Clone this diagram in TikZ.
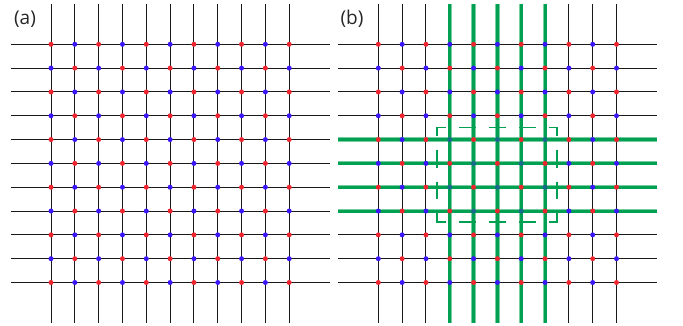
\documentclass[tikz,border=0pt]{standalone}
\usepackage{fontspec}
\setsansfont{Open Sans}
\definecolor{rd}{RGB}{238,36,46}
\definecolor{bl}{RGB}{58,22,250}
\definecolor{gr}{RGB}{0,160,82}
\definecolor{grl}{RGB}{120,205,160}
\definecolor{tl}{RGB}{25,105,140}
\tikzset{
  gridline/.style={line width=0.9pt, black!90},
  greenline/.style={line width=3.0pt, gr},
  greenhalo/.style={line width=4.2pt, grl},
  dashedge/.style={line width=1.9pt, gr, line cap=rect},
  reddot/.style={fill=rd, draw=none},
  bluedot/.style={fill=bl, draw=none},
  tealdot/.style={fill=tl, draw=none},
  panellabel/.style={font=\sffamily\fontsize{19}{19}\selectfont, text=black!85, inner sep=0pt}
}
\begin{document}
\begin{tikzpicture}[x=1pt,y=-1pt]
\useasboundingbox (0,0) rectangle (683,326);
\def\sp{23.82}
\def\yo{44.3}
% ---------- panel (a) ----------
\def\xa{51}
\foreach \i in {0,...,10} {
  \draw[gridline] ({\xa+\i*\sp},4) -- ({\xa+\i*\sp},322.7);
  \draw[gridline] ({\xa-40},{\yo+\i*\sp}) -- ({\xa+278.5},{\yo+\i*\sp});
}
\foreach \i in {0,...,10} {
  \foreach \j in {0,...,10} {
    \pgfmathtruncatemacro\p{mod(\i+\j,2)}
    \ifnum\p=0
      \fill[reddot] ({\xa+\i*\sp},{\yo+\j*\sp}) circle (2.5);
    \else
      \fill[bluedot] ({\xa+\i*\sp},{\yo+\j*\sp}) circle (2.5);
    \fi
  }
}
\node[panellabel] (la) at (25,19) {(a)};
% ---------- panel (b) ----------
\def\xb{378.3}
\foreach \i in {0,...,10} {
  \draw[gridline] ({\xb+\i*\sp},4) -- ({\xb+\i*\sp},322.7);
  \draw[gridline] ({\xb-40},{\yo+\i*\sp}) -- ({\xb+278.5},{\yo+\i*\sp});
}
\foreach \i in {3,...,7} {
  \draw[greenhalo] ({\xb+\i*\sp},4) -- ({\xb+\i*\sp},322.7);
}
\foreach \j in {4,...,7} {
  \draw[greenhalo] ({\xb-40},{\yo+\j*\sp}) -- ({\xb+278.5},{\yo+\j*\sp});
}
\foreach \i in {3,...,7} {
  \draw[greenline] ({\xb+\i*\sp},4) -- ({\xb+\i*\sp},322.7);
}
\foreach \j in {4,...,7} {
  \draw[greenline] ({\xb-40},{\yo+\j*\sp}) -- ({\xb+278.5},{\yo+\j*\sp});
}
% dashed window
\coordinate (w1) at (437.3,127.5);
\coordinate (w2) at (557.3,127.5);
\coordinate (w3) at (557.3,222);
\coordinate (w4) at (437.3,222);
\draw[dashedge, dash pattern=on 15 off 15, dash phase=7.5] (w1) -- (w2);
\draw[dashedge, dash pattern=on 15 off 15, dash phase=7.5] (w4) -- (w3);
\draw[dashedge, dash pattern=on 15.75 off 15.75, dash phase=7.875] (w1) -- (w4);
\draw[dashedge, dash pattern=on 15.75 off 15.75, dash phase=7.875] (w2) -- (w3);
\foreach \i in {0,...,10} {
  \foreach \j in {0,...,10} {
    \pgfmathtruncatemacro\p{mod(\i+\j,2)}
    \pgfmathtruncatemacro\inside{(\i>2)&&(\i<8)&&(\j>3)&&(\j<8) ? 1 : 0}
    \ifnum\p=0
      \fill[reddot] ({\xb+\i*\sp},{\yo+\j*\sp}) circle (2.5);
    \else
      \ifnum\inside=1
        \fill[tealdot] ({\xb+\i*\sp},{\yo+\j*\sp}) circle (2.5);
      \else
        \fill[bluedot] ({\xb+\i*\sp},{\yo+\j*\sp}) circle (2.5);
      \fi
    \fi
  }
}
\node[panellabel] (lb) at (352,19) {(b)};
\end{tikzpicture}
\end{document}
